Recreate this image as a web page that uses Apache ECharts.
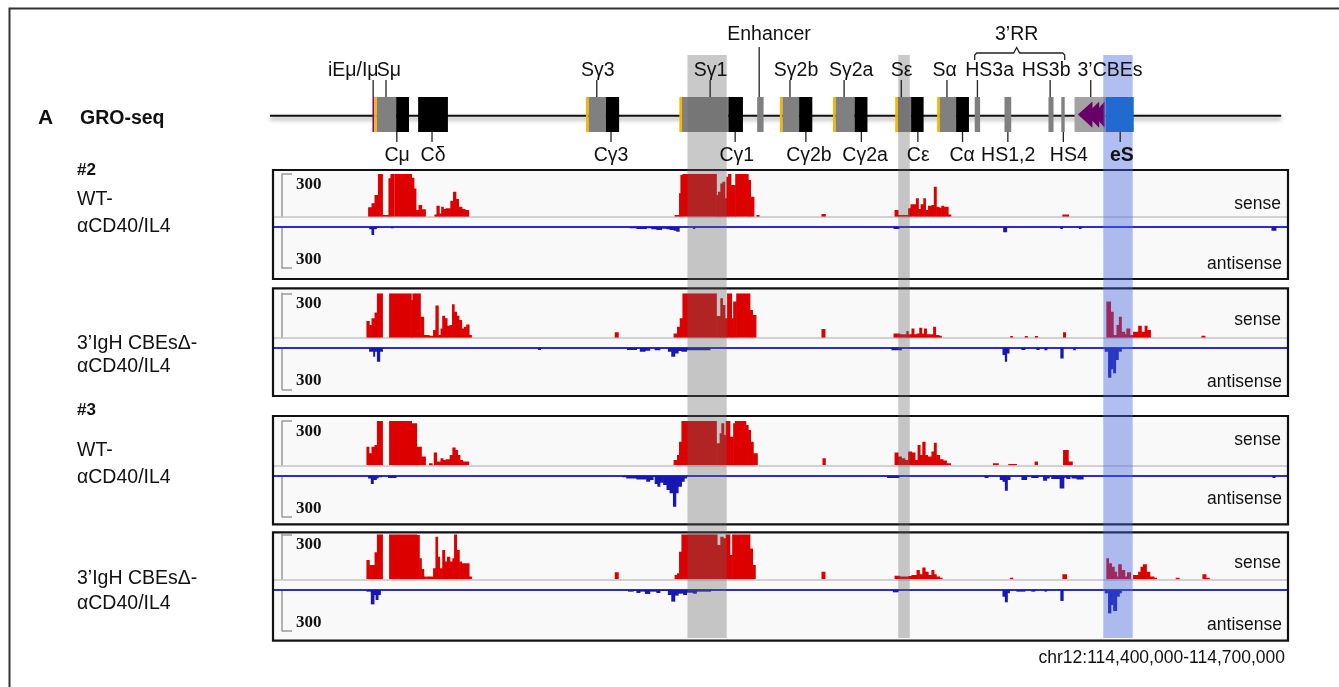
<!DOCTYPE html>
<html><head><meta charset="utf-8">
<script src="https://cdn.jsdelivr.net/npm/echarts@6/dist/echarts.min.js"></script>
<style>html,body{margin:0;padding:0;background:#fff}#c{width:1339px;height:687px}</style>
</head><body><div id="c"></div>
<script>
// ---- genomic window (kb from left edge of chr12:114,400,000-114,700,000 view) ----
const genomeRange = [0, 300];

// ---- gene map features: [startKb, endKb, kind] ----
const geneBoxes = [
  [29.4,29.9,'P'],[29.9,30.7,'Y'],[30.7,36.4,'S'],[36.4,40.2,'C'],
  [42.9,51.7,'C'],
  [92.5,93.3,'Y'],[93.3,98.4,'S'],[98.4,102.3,'C'],
  [120.1,120.9,'Y'],[120.9,134.6,'S'],[134.6,138.9,'C'],
  [143.1,145.0,'S'],
  [149.8,150.6,'Y'],[150.6,155.5,'S'],[155.5,159.4,'C'],
  [165.5,166.3,'Y'],[166.3,171.9,'S'],[171.9,175.7,'C'],
  [183.9,184.7,'Y'],[184.7,188.6,'S'],[188.6,192.3,'C'],
  [196.3,197.1,'Y'],[197.1,201.9,'S'],[201.9,205.7,'C'],
  [207.4,209.0,'S'],[216.2,218.2,'S'],[229.2,230.7,'S'],[233.0,234.0,'S'],
  [236.9,246.1,'CBE'],[246.1,254.4,'eS']
];
// CBE arrowheads: [tipKb, baseKb]
const cbeArrows = [[237.9,242.2],[240.3,244.2],[242.4,245.8]];
// labels: [text, leaderKb, textKb, align]
const topLabels = [
  ['iEμ/Iμ',29.6,31.2,'right'],['Sμ',33.4,30.7,'left'],['Sγ3',95.7,96.0],['Sγ1',129.2,129.3],
  ['Sγ2b',152.8,154.6],['Sγ2a',168.8,170.9],['Sε',185.7,185.8],['Sα',199.2,198.5],
  ['HS3a',208.2,211.8],['HS3b',229.7,228.5],['3’CBEs',241.7,247.4]
];
const upperLabels = [['Enhancer',143.7,146.6]];
const rrBrace = ['3’RR',207.4,234.0,219.8];
const bottomLabels = [
  ['Cμ',36.6,36.7],['Cδ',47.0,47.3],['Cγ3',99.9,99.9],['Cγ1',136.6,137.1],['Cγ2b',157.5,158.4],
  ['Cγ2a',173.9,175.0],['Cε',190.6,190.7],['Cα',203.8,203.7],['HS1,2',217.2,217.3],['HS4',233.6,235.2],['eS',250.4,250.9,'center',true]
];
// highlighted regions: [startKb, endKb, kind]
const bands = [[122.5,134.1,'g'],[184.8,188.2,'g'],[245.4,254.1,'b']];

// ---- GRO-seq tracks: step points [kb, reads] (value holds until next point) ----
const wt2Sense = [[28.2,66],[29.2,94],[30.1,152],[31.1,300],[32.4,12],[34.2,270],[34.8,300],[35.9,0],[36.1,300],[41.0,274],[41.7,199],[42.3,47],[43.1,82],[44.0,52],[45.1,0],[47.8,16],[48.4,77],[49.2,23],[49.8,70],[50.4,54],[51.1,59],[52.5,112],[53.3,176],[54.1,124],[54.9,70],[55.9,54],[56.8,47],[57.9,0],
 [118.8,12],[120.1,164],[120.5,293],[121.1,300],[131.1,152],[131.6,176],[132.3,234],[132.9,246],[133.6,129],[134.1,281],[134.6,300],[135.4,222],[136.7,300],[140.5,258],[141.2,141],[142.2,0],[143.0,12],[143.7,0],
 [162.2,19],[163.3,0],
 [183.8,47],[184.8,12],[187.8,59],[188.5,87],[190.1,129],[190.8,54],[191.5,87],[192.3,129],[192.9,47],[193.7,77],[194.7,82],[195.4,211],[196.1,70],[196.9,63],[197.6,77],[198.3,70],[199.6,16],[200.4,0],
 [233.4,16],[235.2,0]];
const wt2Anti = [[28.5,19],[29.2,60],[29.8,19],[30.6,10],[31.4,0],[34.9,12],[35.6,0],
 [105.5,12],[107.5,17],[110.4,12],[111.9,19],[113.4,24],[114.9,14],[116.4,19],[117.3,24],[118.5,29],[119.3,36],[120.1,0],[124.2,17],[124.7,0],
 [183.5,17],[185.1,0],[215.9,41],[216.9,0],[232.8,17],[233.4,0],[238.3,17],[238.9,0],[295.2,29],[296.5,0]];
const del2Sense = [[27.7,113],[28.5,86],[29.2,131],[30.1,171],[30.8,300],[32.4,0],[34.4,300],[40.9,255],[41.3,300],[43.6,142],[44.6,18],[46.2,14],[47.4,52],[48.1,217],[48.9,18],[49.6,63],[50.1,149],[50.8,131],[51.5,81],[52.3,86],[53.0,226],[53.6,176],[54.3,149],[55.0,120],[55.8,63],[56.5,74],[57.2,90],[58.0,18],[58.7,0],
 [101.1,36],[102.1,0],
 [118.5,29],[119.5,74],[120.3,131],[121.1,300],[131.1,147],[132.3,266],[132.9,221],[133.6,131],[134.3,300],[135.6,131],[136.1,244],[137.0,300],[141.0,187],[141.8,153],[142.8,0],
 [162.2,59],[163.2,0],
 [183.5,29],[185.3,23],[187.3,45],[187.8,23],[188.8,63],[189.5,23],[190.3,29],[191.1,68],[191.8,29],[192.5,63],[193.2,23],[195.2,74],[195.9,18],[196.9,14],[197.6,0],
 [218.0,11],[218.6,0],[222.3,11],[223.0,0],[225.3,11],[226.0,0],[233.6,36],[234.3,0],
 [246.4,244],[247.6,176],[248.4,18],[249.4,86],[250.1,142],[250.8,41],[251.8,23],[252.3,63],[253.3,18],[254.3,41],[255.8,81],[256.7,41],[257.7,81],[258.4,52],[259.4,0],
 [274.5,14],[275.5,0]];
const del2Anti = [[28.5,29],[29.7,65],[30.1,29],[30.8,101],[31.6,29],[32.4,0],[78.4,17],[79.1,0],
 [104.7,17],[107.5,0],[108.5,29],[110.0,22],[111.4,0],[112.9,19],[114.4,0],[116.8,29],[117.8,65],[118.8,41],[119.8,24],[120.8,29],[122.3,19],[129.2,0],
 [182.9,19],[185.8,0],[215.7,53],[216.4,101],[216.9,41],[217.6,0],[221.3,17],[222.3,0],[225.7,17],[226.5,0],[228.1,19],[228.8,0],[232.8,77],[233.6,0],[236.6,19],[237.2,0],
 [245.9,29],[246.9,216],[247.7,156],[248.4,185],[249.1,89],[249.9,29],[250.8,0]];
const wt3Sense = [[27.7,126],[28.4,81],[29.2,126],[30.1,138],[30.8,300],[32.4,0],[34.4,300],[41.0,284],[42.5,126],[43.9,59],[45.1,0],[46.2,14],[47.1,0],[47.6,86],[48.4,25],[49.6,47],[50.3,36],[51.1,41],[52.3,70],[53.1,120],[53.9,104],[54.6,70],[55.3,36],[56.1,25],[57.9,0],
 [118.5,36],[119.5,70],[120.1,160],[120.8,300],[131.1,149],[132.1,217],[132.6,284],[133.3,205],[133.9,300],[135.1,194],[136.1,284],[136.6,300],[139.8,273],[140.5,239],[141.2,160],[142.0,81],[143.2,0],
 [162.5,47],[163.3,0],
 [183.8,86],[184.8,59],[185.8,47],[186.8,36],[187.8,93],[188.8,86],[189.8,36],[190.6,138],[191.3,70],[192.0,160],[192.8,70],[193.5,59],[194.7,93],[195.4,153],[196.1,70],[197.1,41],[198.1,32],[199.1,14],[200.3,0],
 [212.9,14],[214.4,0],[217.4,9],[219.8,0],[225.2,25],[226.0,0],[233.6,104],[235.1,25],[236.3,0]];
const wt3Anti = [[28.2,20],[29.0,61],[29.7,32],[30.6,20],[31.1,12],[32.1,0],[34.1,17],[36.4,0],
 [103.4,12],[104.5,20],[107.5,27],[110.4,44],[111.4,32],[112.4,7],[112.9,61],[113.7,80],[114.4,51],[115.4,68],[116.4,105],[117.3,129],[118.3,227],[119.1,129],[119.8,80],[120.8,44],[121.6,20],[122.3,0],
 [181.6,17],[185.1,0],[210.4,17],[211.4,0],[214.9,32],[215.7,44],[216.4,110],[217.1,32],[217.9,0],[221.3,32],[222.8,0],[224.2,17],[226.2,0],[227.7,37],[228.7,20],[229.5,0],[230.1,24],[232.6,93],[233.8,15],[234.6,24],[235.6,0],[236.1,20],[237.6,27],[239.5,0],[295.5,17],[296.2,0]];
const del3Sense = [[27.7,129],[28.5,95],[30.1,180],[30.8,300],[32.4,0],[34.4,300],[42.5,295],[43.3,140],[43.9,69],[44.6,18],[45.4,0],[45.6,18],[47.4,73],[48.1,284],[48.7,151],[49.3,73],[50.1,195],[50.8,118],[51.5,151],[52.3,118],[53.1,140],[53.6,300],[54.3,195],[55.1,118],[55.8,107],[58.0,18],[58.7,0],
 [101.1,47],[102.1,0],
 [118.8,29],[119.5,40],[120.1,184],[120.8,300],[131.3,229],[132.3,284],[133.1,273],[133.9,300],[135.1,162],[135.8,300],[141.0,206],[141.8,95],[142.6,0],
 [162.2,51],[163.2,0],
 [183.8,24],[185.3,18],[187.8,22],[188.8,29],[190.3,62],[191.1,33],[192.0,78],[192.8,51],[193.7,29],[194.7,62],[195.4,33],[196.1,18],[197.1,11],[197.8,0],
 [217.9,11],[218.7,0],[233.4,33],[234.6,0],
 [246.4,140],[247.0,107],[247.9,84],[248.7,51],[249.4,18],[249.9,100],[250.8,62],[251.8,18],[252.5,47],[253.5,0],[254.3,29],[255.8,51],[256.5,84],[257.2,100],[258.2,51],[259.2,18],[260.4,11],[261.2,0],
 [266.9,11],[267.9,0],[274.8,33],[275.8,11],[276.8,0]];
const del3Anti = [[27.7,12],[29.0,105],[29.9,37],[30.4,73],[31.1,37],[31.8,0],
 [105.0,12],[106.5,7],[107.5,22],[108.5,12],[110.0,29],[111.4,12],[113.4,22],[114.4,7],[116.8,37],[117.8,85],[118.8,41],[119.8,27],[121.3,37],[122.3,20],[124.2,27],[125.2,12],[129.4,0],
 [183.3,17],[184.8,0],[215.7,49],[216.4,90],[217.1,24],[217.7,0],[219.8,12],[222.3,0],[224.2,12],[225.2,0],[228.1,12],[228.7,0],[232.8,80],[233.6,0],
 [245.9,24],[246.9,171],[247.7,110],[248.4,154],[249.4,49],[250.2,24],[250.8,0]];

const scaleTicks = [300];
const sampleLabels = [
  ['#2',170,true],['WT-',200],['αCD40/IL4',227],['3’IgH CBEsΔ-',344],['αCD40/IL4',367],
  ['#3',410,true],['WT-',451],['αCD40/IL4',478],['3’IgH CBEsΔ-',579],['αCD40/IL4',604]
];

// ---- layout (styling) ----
const FONT = '"Liberation Sans", Arial, Helvetica, sans-serif';
const X0 = 273, XW = 1015;
const panels = [
  {top:170, bot:279, sTop:174, sBase:216.7, aTop:226.7, aBot:268.2, senseY:204.3, antiY:264, s:wt2Sense, a:wt2Anti},
  {top:288.3, bot:396, sTop:293.3, sBase:337.7, aTop:347.7, aBot:389.3, senseY:320, antiY:382.3, s:del2Sense, a:del2Anti},
  {top:416, bot:524.3, sTop:421, sBase:465.3, aTop:475.7, aBot:516.7, senseY:440, antiY:499.3, s:wt3Sense, a:wt3Anti},
  {top:532.3, bot:640.7, sTop:534.3, sBase:579.3, aTop:590, aBot:631, senseY:563.3, antiY:625, s:del3Sense, a:del3Anti}
];
const geneColors = {P:'#7a0a7a', Y:'#f5b800', S:'#808080', C:'#000000', CBE:'#a3a3a3', eS:'#0a6fc4'};

// step points -> segments [x0, x1, value]
function toSegments(pts) {
  const out = [];
  for (let i = 0; i < pts.length - 1; i++) {
    if (pts[i][1] > 0) out.push([pts[i][0], pts[i + 1][0], pts[i][1]]);
  }
  return out;
}

const grid = [], xAxis = [], yAxis = [], series = [];
function addGrid(top, height, xOpt, yOpt) {
  const i = grid.length;
  grid.push({left: X0, width: XW, top: top, height: height});
  xAxis.push(Object.assign({type:'value', gridIndex:i, min:genomeRange[0], max:genomeRange[1], show:false, splitLine:{show:false}}, xOpt || {}));
  yAxis.push(Object.assign({type:'value', gridIndex:i, show:false, splitLine:{show:false}}, yOpt || {}));
  return i;
}
function txt(text, x, y, opt) {
  opt = opt || {};
  const al = opt.align || 'left', va = opt.va || 'middle';
  return {type:'text', x:x, y:y, z: opt.z || 40, silent:true, style:{text:text, fontSize:opt.size||19.5, fontFamily:opt.family||FONT,
    fontWeight:opt.bold?'bold':'normal', fill:opt.color||'#111', align:al, verticalAlign:va, textAlign:al, textVerticalAlign:va}};
}

// gene map grid
const gi = addGrid(97, 35, {}, {min:-1, max:1});
// overlay grid for highlight bands
const oi = addGrid(55, 583, {}, {min:0, max:1});

series.push({type:'custom', xAxisIndex:gi, yAxisIndex:gi, silent:true, clip:false, z:4, data:[[-0.9, 298.0]],
  renderItem: function(params, api){
    const a = api.coord([api.value(0), -0.07]), b = api.coord([api.value(1), -0.07]);
    return {type:'line', shape:{x1:a[0], y1:a[1], x2:b[0], y2:b[1]},
      style:{stroke:'#111', lineWidth:2, shadowBlur:4, shadowColor:'rgba(0,0,0,0.45)', shadowOffsetY:3}};
  }});
series.push({type:'custom', xAxisIndex:gi, yAxisIndex:gi, silent:true, clip:false, z:5,
  data: geneBoxes.map(function(g){return [g[0], g[1]];}),
  renderItem: function(params, api){
    const k = geneBoxes[params.dataIndex][2];
    const a = api.coord([api.value(0), 1]), b = api.coord([api.value(1), -1]);
    return {type:'rect', shape:{x:a[0], y:a[1], width:b[0]-a[0], height:b[1]-a[1]}, style:{fill:geneColors[k]}};
  }});
series.push({type:'custom', xAxisIndex:gi, yAxisIndex:gi, silent:true, clip:false, z:6,
  data: cbeArrows,
  renderItem: function(params, api){
    const t = api.coord([api.value(0), 0]), b1 = api.coord([api.value(1), 0.75]), b2 = api.coord([api.value(1), -0.75]);
    return {type:'polygon', shape:{points:[t, b1, b2]}, style:{fill:'#680068'}};
  }});
// labels
series.push({type:'custom', xAxisIndex:gi, yAxisIndex:gi, silent:true, clip:false, z:25,
  data: topLabels.map(function(l){return [l[1], l[2]];}),
  renderItem: function(params, api){
    const l = topLabels[params.dataIndex];
    const p = api.coord([api.value(0), 1]), q = api.coord([api.value(1), 1]);
    const al = l[3] || 'center';
    return {type:'group', children:[
      {type:'line', shape:{x1:p[0], y1:p[1]-17, x2:p[0], y2:p[1]}, style:{stroke:'#222', lineWidth:1.3}},
      {type:'text', style:{text:l[0], x:q[0], y:q[1]-26, align:al, textAlign:al, verticalAlign:'middle', textVerticalAlign:'middle', fontSize:19.5, fontFamily:FONT, fill:'#111'}}
    ]};
  }});
series.push({type:'custom', xAxisIndex:gi, yAxisIndex:gi, silent:true, clip:false, z:25,
  data: upperLabels.map(function(l){return [l[1], l[2]];}),
  renderItem: function(params, api){
    const l = upperLabels[params.dataIndex];
    const p = api.coord([api.value(0), 1]), q = api.coord([api.value(1), 1]);
    return {type:'group', children:[
      {type:'line', shape:{x1:p[0], y1:p[1]-50, x2:p[0], y2:p[1]}, style:{stroke:'#222', lineWidth:1.3}},
      {type:'text', style:{text:l[0], x:q[0], y:q[1]-62, align:'center', textAlign:'center', verticalAlign:'middle', textVerticalAlign:'middle', fontSize:19.5, fontFamily:FONT, fill:'#111'}}
    ]};
  }});
series.push({type:'custom', xAxisIndex:gi, yAxisIndex:gi, silent:true, clip:false, z:25,
  data: [[rrBrace[1], rrBrace[2], rrBrace[3]]],
  renderItem: function(params, api){
    const a = api.coord([api.value(0), 1]), b = api.coord([api.value(1), 1]), c = api.coord([api.value(2), 1]);
    const y0 = a[1];
    return {type:'group', children:[
      {type:'polyline', shape:{points:[[a[0], y0-37],[a[0], y0-42],[a[0]+2, y0-44],[c[0]-3, y0-44],[c[0], y0-49.5],[c[0]+3, y0-44],[b[0]-2, y0-44],[b[0], y0-42],[b[0], y0-37]]},
        style:{stroke:'#222', lineWidth:1.3, fill:null}},
      {type:'text', style:{text:rrBrace[0], x:c[0], y:y0-62, align:'center', textAlign:'center', verticalAlign:'middle', textVerticalAlign:'middle', fontSize:19.5, fontFamily:FONT, fill:'#111'}}
    ]};
  }});
series.push({type:'custom', xAxisIndex:gi, yAxisIndex:gi, silent:true, clip:false, z:25,
  data: bottomLabels.map(function(l){return [l[1], l[2]];}),
  renderItem: function(params, api){
    const l = bottomLabels[params.dataIndex];
    const p = api.coord([api.value(0), -1]), q = api.coord([api.value(1), -1]);
    return {type:'group', children:[
      {type:'line', shape:{x1:p[0], y1:p[1], x2:p[0], y2:p[1]+10}, style:{stroke:'#222', lineWidth:1.3}},
      {type:'text', style:{text:l[0], x:q[0], y:q[1]+24, align:'center', textAlign:'center', verticalAlign:'middle', textVerticalAlign:'middle', fontSize:19.5, fontWeight:l[4]?'bold':'normal', fontFamily:FONT, fill:'#111'}}
    ]};
  }});
// highlight bands
series.push({type:'custom', xAxisIndex:oi, yAxisIndex:oi, silent:true, clip:false, z:20,
  data: bands.map(function(b){return [b[0], b[1]];}),
  renderItem: function(params, api){
    const k = bands[params.dataIndex][2];
    const a = api.coord([api.value(0), 1]), b = api.coord([api.value(1), 0]);
    return {type:'rect', shape:{x:a[0], y:a[1], width:b[0]-a[0], height:b[1]-a[1]},
      style:{fill: k === 'b' ? 'rgba(70,100,225,0.42)' : 'rgba(100,100,100,0.35)'}};
  }});

function barRender(color) {
  return function(params, api){
    const a = api.coord([api.value(0), api.value(2)]), b = api.coord([api.value(1), 0]);
    const y = Math.min(a[1], b[1]), h = Math.abs(b[1] - a[1]);
    return {type:'rect', shape:{x:a[0] - 0.3, y:y, width:b[0] - a[0] + 0.6, height:h}, style:{fill:color}};
  };
}

const graphics = [];
graphics.push({type:'rect', z:0, silent:true, shape:{x:9.5, y:8.5, width:1340, height:690}, style:{fill:'#fff', stroke:'#333', lineWidth:2}});

const bracketStyle = {color:'#9a9a9a', width:1.5};
panels.forEach(function(p){
  graphics.push({type:'rect', z:1, silent:true, shape:{x:X0, y:p.top, width:XW, height:p.bot-p.top}, style:{fill:'#f9f9f9'}});
  graphics.push({type:'rect', z:12, silent:true, shape:{x:X0, y:p.top, width:XW, height:p.bot-p.top}, style:{fill:null, stroke:'#111', lineWidth:2.2}});
  graphics.push(txt('sense', 1281, p.senseY, {align:'right', size:17.5}));
  graphics.push(txt('antisense', 1282, p.antiY, {align:'right', size:17.5}));

  const si = addGrid(p.sTop, p.sBase - p.sTop,
    {show:true, z:2, position:'bottom', axisLine:{show:true, onZero:false, lineStyle:{color:'#c4c4c4', width:1.5}}, axisTick:{show:false}, axisLabel:{show:false}},
    {show:true, z:2, min:0, max:300, interval:300, position:'left', offset:-9,
     axisLine:{show:true, onZero:false, lineStyle:bracketStyle},
     axisTick:{show:true, inside:true, length:10, customValues:scaleTicks, lineStyle:bracketStyle},
     axisLabel:{show:true, inside:true, margin:14, customValues:scaleTicks, formatter:function(v){return v===300?'300':'';},
       verticalAlign:'top', padding:[2,0,0,0], fontFamily:'"Liberation Serif", "Times New Roman", serif', fontWeight:'bold', fontSize:17, color:'#111'}});
  const ai = addGrid(p.aTop, p.aBot - p.aTop,
    {show:true, z:2, position:'top', axisLine:{show:true, onZero:false, lineStyle:{color:'#2c2ccc', width:2}}, axisTick:{show:false}, axisLabel:{show:false}},
    {show:true, z:2, inverse:true, min:0, max:300, interval:300, position:'left', offset:-9,
     axisLine:{show:true, onZero:false, lineStyle:bracketStyle},
     axisTick:{show:true, inside:true, length:10, customValues:scaleTicks, lineStyle:bracketStyle},
     axisLabel:{show:true, inside:true, margin:14, customValues:scaleTicks, formatter:function(v){return v===300?'300':'';},
       verticalAlign:'bottom', padding:[0,0,0,0], fontFamily:'"Liberation Serif", "Times New Roman", serif', fontWeight:'bold', fontSize:17, color:'#111'}});
  series.push({type:'custom', xAxisIndex:si, yAxisIndex:si, data:toSegments(p.s), silent:true, clip:true, z:3,
    encode:{x:[0,1], y:2}, renderItem: barRender('#dc0000')});
  series.push({type:'custom', xAxisIndex:ai, yAxisIndex:ai, data:toSegments(p.a), silent:true, clip:true, z:3,
    encode:{x:[0,1], y:2}, renderItem: barRender('#1818b0')});
});

graphics.push(txt('A', 38, 118, {bold:true, size:21}));
graphics.push(txt('GRO-seq', 80, 119, {bold:true, size:19.5}));
sampleLabels.forEach(function(l){
  graphics.push(txt(l[0], 77, l[1], {bold:!!l[2], size: l[2] ? 17 : 19.5}));
});
graphics.push(txt('chr12:114,400,000-114,700,000', 1285, 658, {align:'right', size:17.5}));

const chart = echarts.init(document.getElementById('c'), null, {renderer:'canvas'});
chart.setOption({
  animation:false,
  backgroundColor:'#ffffff',
  grid:grid, xAxis:xAxis, yAxis:yAxis, series:series,
  graphic:{elements:graphics}
});
</script></body></html>
